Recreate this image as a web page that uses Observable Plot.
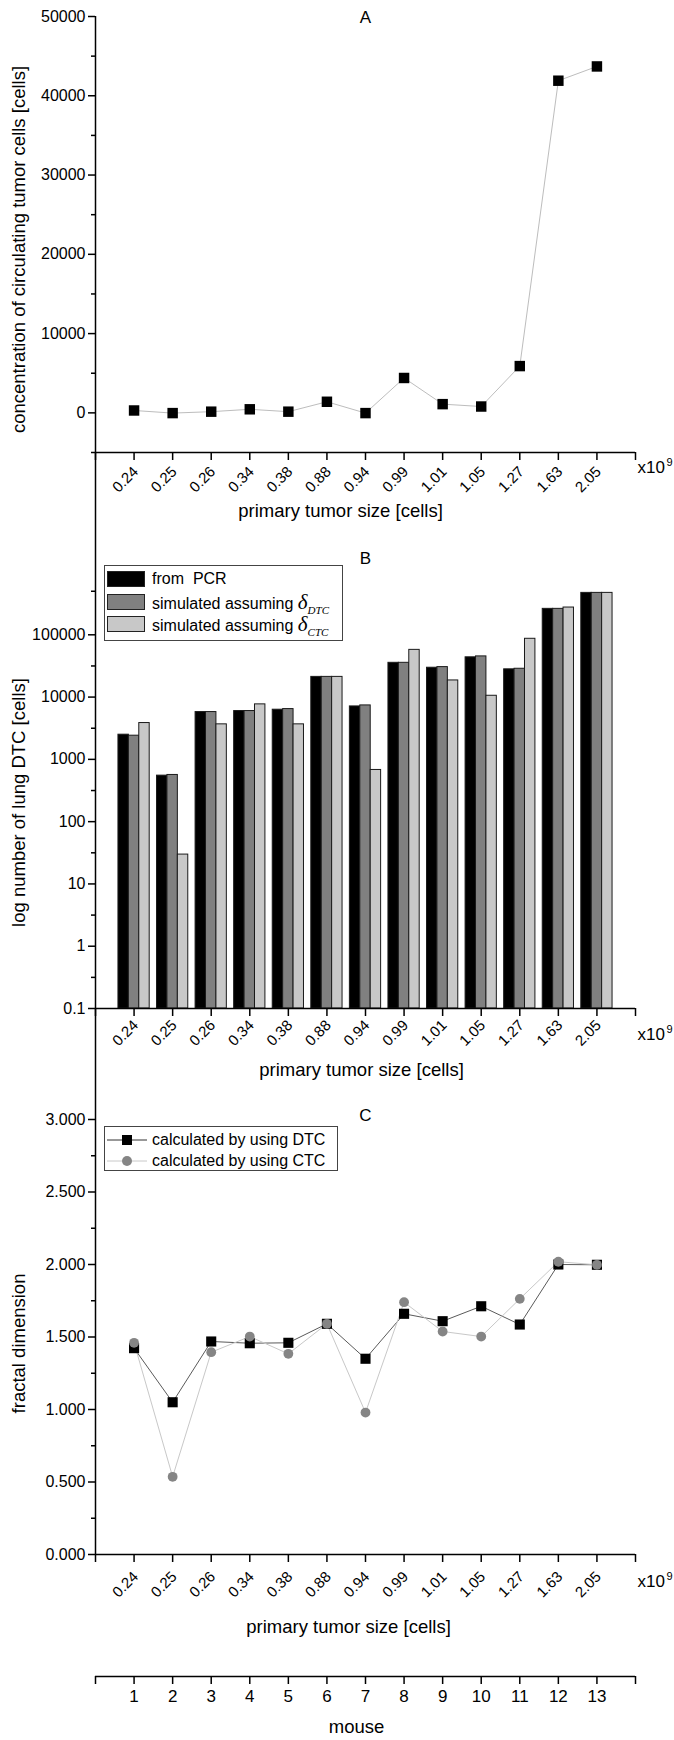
<!DOCTYPE html>
<html><head><meta charset="utf-8">
<script src="https://cdn.jsdelivr.net/npm/d3@7"></script>
<script src="https://cdn.jsdelivr.net/npm/@observablehq/plot@0.6"></script>
<style>
html,body{margin:0;padding:0;background:#fff;}
#root{position:relative;width:674px;height:1740px;overflow:hidden;font-family:"Liberation Sans",Arial,sans-serif;color:#000;}
#root svg{overflow:visible;}
.panel{position:absolute;left:0;}
.legend{position:absolute;border:1px solid #444;background:#fff;box-sizing:border-box;font-size:16px;}
.row{position:absolute;left:0;right:0;height:22px;line-height:22px;white-space:nowrap;}
.sw{position:absolute;left:2px;top:3px;width:38px;height:16px;box-sizing:border-box;border:1px solid #222;}
.lt{position:absolute;left:47px;top:0;}
.gk{font-family:"Liberation Serif","DejaVu Serif",serif;font-style:italic;font-size:21px;}
.sub{font-family:"Liberation Serif","DejaVu Serif",serif;font-style:italic;font-size:11px;position:relative;top:5px;}
</style></head><body><div id="root"></div><script>
// ---------- data ----------
const sizeLabels = ["0.24","0.25","0.26","0.34","0.38","0.88","0.94","0.99","1.01","1.05","1.27","1.63","2.05"];
const mouseIds = [1,2,3,4,5,6,7,8,9,10,11,12,13];
const ctcConcentration = [300, -30, 150, 450, 150, 1400, -30, 4400, 1100, 800, 5900, 41900, 43700];
const dtcFromPCR = [2490, 548, 5750, 5970, 6270, 21100, 7080, 35500, 29600, 43500, 27900, 261000, 471000];
const dtcSimDelta = [2400, 562, 5750, 5970, 6420, 21100, 7350, 35500, 30300, 45000, 28500, 261000, 471000];
const dtcSimCTC = [3830, 29.6, 3650, 7640, 3650, 21100, 676, 57300, 18500, 10500, 86300, 274000, 471000];
const fractalDTC = [1.423, 1.050, 1.469, 1.457, 1.460, 1.591, 1.350, 1.660, 1.609, 1.712, 1.586, 2.000, 1.998];
const fractalCTC = [1.460, 0.536, 1.395, 1.503, 1.384, 1.591, 0.979, 1.740, 1.538, 1.503, 1.763, 2.019, 1.998];
const xTicks = [0,1,2,3,4,5,6,7,8,9,10,11,12,13,14];
const aTicks = [0,10000,20000,30000,40000,50000];
const aMinor = [-5000,5000,15000,25000,35000,45000];
const bTicks = [0.1,1,10,100,1000,10000,100000];
const bMinor = [0.316,3.16,31.6,316,3160,31600,500000];
const cTicks = [0,0.5,1,1.5,2,2.5,3];
const cMinor = [0.25,0.75,1.25,1.75,2.25,2.75];

// ---------- tables ----------
const pos = sizeLabels.map((s,i)=>i+1);
const aRows = pos.map((p,i)=>({pos:p, value:ctcConcentration[i]}));
const bSeries = [dtcFromPCR, dtcSimDelta, dtcSimCTC];
const barFill = ["#000000","#808080","#c8c8c8"];
const BW = 0.27;
const dtcRows = pos.map((p,i)=>({pos:p, value:fractalDTC[i]}));
const ctcRows = pos.map((p,i)=>({pos:p, value:fractalCTC[i]}));

const FONT = '"Liberation Sans", Arial, sans-serif';
const style = {fontSize:"16px", fontFamily:FONT, background:"transparent", overflow:"visible", color:"#000"};
const W = 674, ML = 95, MR = 39;

function xDecor(dyLab, dyX10, dxTitle, dyTitle) {
  return [
    Plot.axisX({ticks:xTicks, tickSize:8, tickFormat:()=>"", label:null, strokeWidth:1.5}),
    Plot.text(sizeLabels, {x:(d,i)=>i+1, text:d=>d, frameAnchor:"bottom", rotate:-45, textAnchor:"end", dx:5, dy:dyLab, fontSize:15}),
    Plot.text(["x10"], {text:d=>d, frameAnchor:"bottom-right", textAnchor:"start", dx:2, dy:dyX10, fontSize:17}),
    Plot.text(["9"], {text:d=>d, frameAnchor:"bottom-right", textAnchor:"start", dx:31, dy:dyX10-7, fontSize:11}),
    Plot.text(["primary tumor size [cells]"], {text:d=>d, frameAnchor:"bottom", textAnchor:"middle", dx:dxTitle, dy:dyTitle, fontSize:18.5})
  ];
}
function yTitle(label, dy) {
  return Plot.text([label], {text:d=>d, frameAnchor:"left", textAnchor:"middle", rotate:-90, dx:-76.5, dy, fontSize:18.5});
}
function panelTitle(t, dy) {
  return Plot.text([t], {text:d=>d, frameAnchor:"top", textAnchor:"middle", dy, fontSize:17});
}

const root = document.getElementById("root");
function place(el, top) {
  const d = document.createElement("div");
  d.className = "panel"; d.style.top = top + "px";
  d.appendChild(el); root.appendChild(d);
}

// ---------- Panel A ----------
const plotA = Plot.plot({
  width:W, height:540, marginTop:16, marginBottom:88, marginLeft:ML, marginRight:MR, style,
  x:{domain:[0,14]}, y:{domain:[-5000,50000]},
  marks:[
    Plot.line(aRows, {x:"pos", y:"value", stroke:"#bdbdbd", strokeWidth:1}),
    Plot.dot(aRows, {x:"pos", y:"value", symbol:"square", r:5.9, fill:"#000"}),
    Plot.ruleX([0], {strokeWidth:1.5}),
    Plot.ruleY([-5000], {strokeWidth:1.5}),
    Plot.axisY({ticks:aTicks, tickSize:7, tickPadding:3, tickFormat:d=>String(d), label:null, strokeWidth:1.5}),
    Plot.axisY({ticks:aMinor, tickSize:4, tickFormat:()=>"", label:null, strokeWidth:1.5}),
    ...xDecor(20, 20, -25, 64),
    yTitle("concentration of circulating tumor cells [cells]", 15),
    panelTitle("A", -6)
  ]
});
place(plotA, 0);

// ---------- Panel B ----------
const bTop = 452, bBottom = 1008;
const plotB = Plot.plot({
  width:W, height:(bBottom-bTop)+90, marginTop:0, marginBottom:90, marginLeft:ML, marginRight:MR, style,
  x:{domain:[0,14]}, y:{type:"log", domain:[0.1, Math.pow(10, 7.927)]},
  marks:[
    ...bSeries.map((arr,k)=>Plot.rectY(arr, {
      x1:(d,i)=>pos[i]+(k-1.5)*BW, x2:(d,i)=>pos[i]+(k-0.5)*BW,
      y1:0.1, y2:d=>d, fill:barFill[k], stroke:"#1a1a1a", strokeWidth:1
    })),
    Plot.ruleX([0], {strokeWidth:1.5}),
    Plot.ruleY([0.1], {strokeWidth:1.5}),
    Plot.axisY({ticks:bTicks, tickSize:7, tickPadding:3, tickFormat:d=>String(d), label:null, strokeWidth:1.5}),
    Plot.axisY({ticks:bMinor, tickSize:4, tickFormat:()=>"", label:null, strokeWidth:1.5}),
    ...xDecor(17.6, 31, -4, 67),
    yTitle("log number of lung DTC [cells]", 72),
    panelTitle("B", 99.5)
  ]
});
place(plotB, bTop);

// ---------- Panel C ----------
const cTop = 1008, cBottom = 1554;
const plotC = Plot.plot({
  width:W, height:(cBottom-cTop)+100, marginTop:0, marginBottom:100, marginLeft:ML, marginRight:MR, style,
  x:{domain:[0,14]}, y:{domain:[0, 3.7655]},
  marks:[
    Plot.line(dtcRows, {x:"pos", y:"value", stroke:"#5a5a5a", strokeWidth:1}),
    Plot.line(ctcRows, {x:"pos", y:"value", stroke:"#c8c8c8", strokeWidth:1}),
    Plot.dot(dtcRows, {x:"pos", y:"value", symbol:"square", r:5.7, fill:"#000"}),
    Plot.dot(ctcRows, {x:"pos", y:"value", r:4.9, fill:"#858585"}),
    Plot.ruleX([0], {strokeWidth:1.5}),
    Plot.ruleY([0], {strokeWidth:1.5}),
    Plot.axisY({ticks:cTicks, tickSize:7, tickPadding:3, tickFormat:d3.format(".3f"), label:null, strokeWidth:1.5}),
    Plot.axisY({ticks:cMinor, tickSize:4, tickFormat:()=>"", label:null, strokeWidth:1.5}),
    ...xDecor(23, 32, -17, 78),
    yTitle("fractal dimension", 62),
    panelTitle("C", 100)
  ]
});
place(plotC, cTop);

// ---------- Mouse axis ----------
const plotM = Plot.plot({
  width:W, height:140, marginTop:60, marginBottom:64, marginLeft:ML, marginRight:MR, style,
  x:{domain:[0,14]}, y:{domain:[0,1], axis:null},
  marks:[
    Plot.ruleY([0], {strokeWidth:1.5}),
    Plot.axisX({ticks:xTicks, tickSize:8, tickPadding:5, fontSize:17,
      tickFormat:d=>(d>=1 && d<=mouseIds.length) ? String(mouseIds[d-1]) : "", label:null, strokeWidth:1.5}),
    Plot.text(["mouse"], {text:d=>d, frameAnchor:"bottom", textAnchor:"middle", dx:-9, dy:56, fontSize:18.5})
  ]
});
place(plotM, 1600);

// ---------- Legends ----------
const legB = document.createElement("div");
legB.className = "legend";
Object.assign(legB.style, {left:"104px", top:"565px", width:"239px", height:"76px"});
const legBItems = [
  'from&nbsp; PCR',
  'simulated assuming <span class="gk">δ</span><span class="sub">DTC</span>',
  'simulated assuming <span class="gk">δ</span><span class="sub">CTC</span>'
];
legB.innerHTML = legBItems.map((t,k)=>
  `<div class="row" style="top:${2+k*22.7}px"><div class="sw" style="background:${barFill[k]}"></div><div class="lt">${t}</div></div>`).join("");
root.appendChild(legB);

const legC = document.createElement("div");
legC.className = "legend";
Object.assign(legC.style, {left:"104px", top:"1126px", width:"234px", height:"45px"});
legC.innerHTML =
  `<div class="row" style="top:2px"><svg width="40" height="22" style="position:absolute;left:2px;top:0"><line x1="0" x2="40" y1="11" y2="11" stroke="#333" stroke-width="1"/><rect x="15" y="6" width="10" height="10" fill="#000"/></svg><div class="lt">calculated by using DTC</div></div>` +
  `<div class="row" style="top:23px"><svg width="40" height="22" style="position:absolute;left:2px;top:0"><line x1="0" x2="40" y1="11" y2="11" stroke="#c8c8c8" stroke-width="1"/><circle cx="20" cy="11" r="5" fill="#858585"/></svg><div class="lt">calculated by using CTC</div></div>`;
root.appendChild(legC);
</script></body></html>
